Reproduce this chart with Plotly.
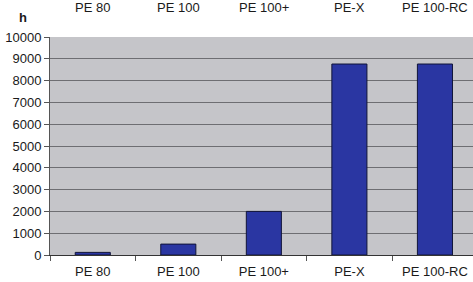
import plotly.graph_objects as go

categories = ["PE 80", "PE 100", "PE 100+", "PE-X", "PE 100-RC"]
hours = [120, 500, 2000, 8760, 8760]
y_ticks = [0, 1000, 2000, 3000, 4000, 5000, 6000, 7000, 8000, 9000, 10000]

FONT = "Liberation Sans, Arial"

fig = go.Figure()
fig.add_trace(go.Bar(
    x=categories, y=hours, width=0.41,
    marker=dict(color="#2a36a2", line=dict(color="#101438", width=1)),
))

for c in categories:
    fig.add_annotation(x=c, xref="x", y=1.135, yref="paper", text=c,
                       showarrow=False, yanchor="middle",
                       font=dict(family=FONT, size=13, color="#1a1a1a"))

fig.add_annotation(x=-0.064, xref="paper", y=1.09, yref="paper", text="<b>h</b>",
                   showarrow=False, xanchor="center", yanchor="middle",
                   font=dict(family=FONT, size=13, color="#1a1a1a"))

fig.update_layout(
    width=473, height=282,
    margin=dict(l=50, r=0, t=37, b=27),
    paper_bgcolor="white", plot_bgcolor="#c5c5c9",
    showlegend=False,
    font=dict(family=FONT, size=13, color="#1a1a1a"),
    bargap=0.59,
)
fig.update_xaxes(
    range=[-0.5, 4.445], showgrid=False,
    ticks="outside", tickson="boundaries", ticklen=5, tickcolor="#555",
    showline=True, linecolor="#333", linewidth=1,
    ticklabelstandoff=4,
    tickfont=dict(size=13, color="#1a1a1a"),
)
fig.update_yaxes(
    range=[0, 10000], tickvals=y_ticks, ticktext=[str(v) for v in y_ticks],
    showgrid=True, gridcolor="#6e6e72", gridwidth=1,
    ticks="outside", ticklen=5, tickcolor="#555",
    showline=True, linecolor="#555", linewidth=1,
    zeroline=False,
    tickfont=dict(size=13, color="#1a1a1a"),
)

fig.write_html("out.html", config={"displayModeBar": False},
               post_script="document.body.style.margin='0';")
